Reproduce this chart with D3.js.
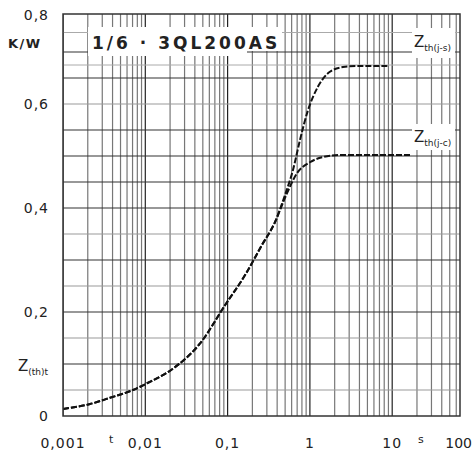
<!DOCTYPE html>
<html lang="en">
<head>
<meta charset="utf-8">
<title>Zth 3QL200AS</title>
<script src="https://cdn.jsdelivr.net/npm/d3@7"></script>
<style>
  body { margin: 0; background: #fff; }
  text { font-family: "DejaVu Sans", sans-serif; fill: #222; }
</style>
</head>
<body>
<div id="chart"></div>
<script>
// data
var tCommon = [0.001, 0.00213, 0.00372, 0.00708, 0.0105, 0.023, 0.046, 0.093, 0.163, 0.262, 0.377]
var zCommon = [0.0135, 0.023, 0.035, 0.05, 0.063, 0.094, 0.139, 0.213, 0.271, 0.329, 0.373]
var tJS = [0.498, 0.623, 0.758, 0.948, 1.25, 1.75, 2.52, 3.73, 8.9]
var zJS = [0.425, 0.473, 0.531, 0.588, 0.633, 0.662, 0.671, 0.673, 0.673]
var tJC = [0.5, 0.697, 1.0, 1.44, 2.32, 4.0, 17]
var zJC = [0.42, 0.467, 0.488, 0.498, 0.502, 0.502, 0.502]

var xTicks = [0.001, 0.01, 0.1, 1, 10, 100]
var xTickLabels = ["0,001", "0,01", "0,1", "1", "10", "100"]
var yTicks = [0, 0.2, 0.4, 0.6, 0.8]
var yTickLabels = ["0", "0,2", "0,4", "0,6", "0,8"]
var yGrid = [0.05, 0.1, 0.15, 0.2, 0.25, 0.3, 0.35, 0.4, 0.45, 0.5, 0.55, 0.6, 0.65, 0.7]
var yGridLight = [0.05, 0.15, 0.25, 0.35, 0.6]
var yGridExtra = [0.675, 0.7375]

var w = 473, h = 456
var pl = 63, pr = 460, pt = 14, pb = 416

var svg = d3.select("#chart").append("svg").attr("width", w).attr("height", h)

// scanned sheet: the frame cuts the log axis before 100 and the y axis before 0.8
var x = d3.scaleLog().domain([0.001, 100]).range([pl, pl + 5 * 82.3])
var y = d3.scaleLinear().domain([0, 0.8]).range([pb, 0])

svg.append("clipPath").attr("id", "plot")
  .append("rect").attr("x", pl).attr("y", pt).attr("width", pr - pl).attr("height", pb - pt)

var g = svg.append("g").attr("clip-path", "url(#plot)")

// vertical log grid
var vGrid = []
for (var d = 0.001; d < 100; d *= 10) {
  for (var k = 1; k < 10; k++) vGrid.push(+(d * k).toPrecision(3))
}
g.selectAll(".vg").data(vGrid).enter().append("line")
  .attr("x1", function(d) { return x(d) }).attr("x2", function(d) { return x(d) })
  .attr("y1", pt).attr("y2", pb)
  .attr("stroke", function(d) { return xTicks.indexOf(d) >= 0 ? "#222" : "#777" })
  .attr("stroke-width", 1.2)

g.selectAll(".hg").data(yGrid).enter().append("line")
  .attr("x1", pl).attr("x2", pr)
  .attr("y1", function(d) { return y(d) }).attr("y2", function(d) { return y(d) })
  .attr("stroke", function(d) { return yGridLight.indexOf(d) >= 0 ? "#999" : "#333" })
  .attr("stroke-width", 1.2)

g.selectAll(".hx").data(yGridExtra).enter().append("line")
  .attr("x1", pl).attr("x2", pr)
  .attr("y1", function(d) { return y(d) }).attr("y2", function(d) { return y(d) })
  .attr("stroke", "#aaa").attr("stroke-width", 1)

// white boxes behind the texts
g.append("rect").attr("x", 88).attr("y", 27).attr("width", 194).attr("height", 24).attr("fill", "#fff")
g.append("rect").attr("x", 88).attr("y", 50).attr("width", 159).attr("height", 6).attr("fill", "#fff")
g.append("rect").attr("x", 412).attr("y", 28).attr("width", 43).attr("height", 30).attr("fill", "#fff")
g.append("rect").attr("x", 412).attr("y", 124).attr("width", 43).attr("height", 26).attr("fill", "#fff")

// curves
var line = d3.line()
  .x(function(d) { return x(d[0]) })
  .y(function(d) { return y(d[1]) })
  .curve(d3.curveMonotoneX)

var common = d3.zip(tCommon, zCommon)
var js = common.concat(d3.zip(tJS, zJS))
var jc = common.concat(d3.zip(tJC, zJC))

g.selectAll(".curve").data([js, jc]).enter().append("path")
  .attr("d", line)
  .attr("fill", "none")
  .attr("stroke", "#111")
  .attr("stroke-width", 2)
  .attr("stroke-dasharray", "6,2")

// frame
svg.append("rect").attr("x", pl).attr("y", pt).attr("width", pr - pl).attr("height", pb - pt)
  .attr("fill", "none").attr("stroke", "#333").attr("stroke-width", 1.5)

// tick labels
svg.selectAll(".xl").data(xTicks).enter().append("text")
  .attr("x", function(d) { return x(d) > pr ? w - 1 : x(d) })
  .attr("y", 448)
  .attr("text-anchor", function(d) { return x(d) > pr ? "end" : "middle" })
  .attr("font-size", "14px")
  .attr("letter-spacing", function(d) { return x(d) > pr ? "0px" : "1px" })
  .text(function(d, i) { return xTickLabels[i] })

svg.selectAll(".yl").data(yTicks).enter().append("text")
  .attr("x", 49)
  .attr("y", function(d) { return Math.max(y(d), 15) })
  .attr("dy", "0.36em")
  .attr("text-anchor", "end")
  .attr("font-size", "14px")
  .attr("letter-spacing", "1px")
  .text(function(d, i) { return yTickLabels[i] })

svg.append("text").attr("x", 8).attr("y", 48).attr("font-size", "13px").attr("font-weight", "bold")
  .attr("letter-spacing", "1.5px")
  .text("K/W")

svg.append("text").attr("x", 92).attr("y", 49)
  .attr("font-family", "Liberation Sans, Arial, sans-serif")
  .attr("font-size", "17px").attr("font-weight", "bold").attr("letter-spacing", "3px")
  .text("1/6 · 3QL200AS")

function zLabel(px, py, sub) {
  var t = svg.append("text").attr("x", px).attr("y", py).attr("font-size", "15px")
  t.append("tspan").text("Z")
  t.append("tspan").attr("font-size", "9px").attr("dy", "4").text(sub)
}
zLabel(414, 47, "th(j-s)")
zLabel(414, 142, "th(j-c)")
zLabel(18, 371, "(th)t")

svg.append("text").attr("x", 109).attr("y", 443).attr("font-size", "11px").text("t")
svg.append("text").attr("x", 418).attr("y", 443).attr("font-size", "11px").text("s")
</script>
</body>
</html>
